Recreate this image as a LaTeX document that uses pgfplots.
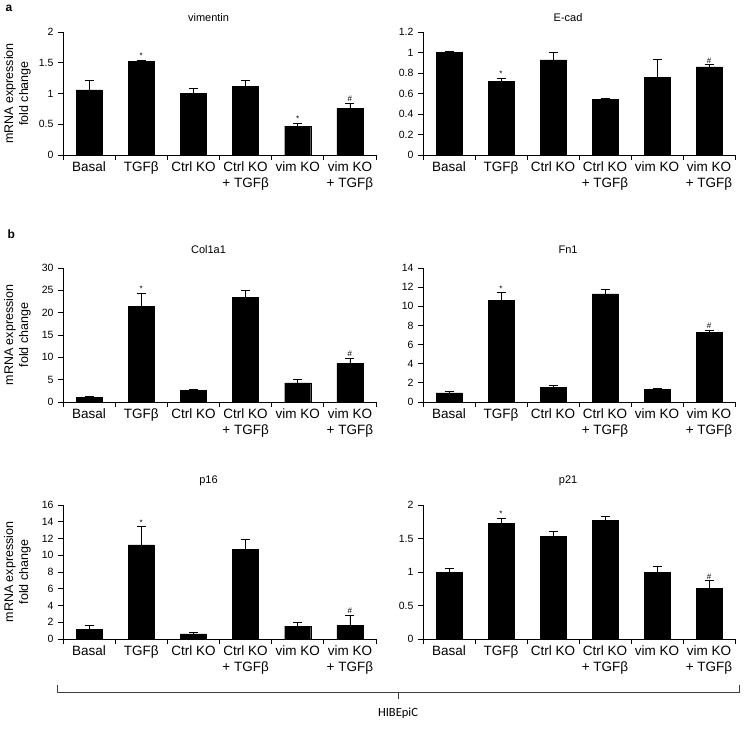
\documentclass[border=0pt]{standalone}
\usepackage{pgfplots}
\pgfplotsset{compat=1.18}
\usepackage{fontspec}
\setmainfont{Liberation Sans}
\newfontfamily\carlito{Carlito}
\pgfplotsset{
  panel/.style={
    scale only axis, width=313pt,
    axis lines*=left, xmin=-0.5, xmax=5.5, ymin=0,
    xtick={-0.5,0.5,...,5.5}, xticklabels={},
    extra x ticks={0,1,2,3,4,5},
    extra x tick labels={Basal, TGFβ, Ctrl KO, {Ctrl KO\\+ TGFβ}, vim KO, {vim KO\\+ TGFβ}},
    extra x tick style={major tick length=0pt, tick label style={font=\fontsize{13.5}{16.5}\selectfont, align=center, anchor=north, yshift=-3pt}},
    tick align=outside, major tick length=5pt,
    tick style={black, line width=0.8pt},
    axis line style={black, line width=0.8pt},
    yticklabel style={font=\fontsize{10.5}{12}\selectfont, xshift=-1pt},
    /pgf/number format/assume math mode=true,
    title style={font=\fontsize{11}{13}\selectfont, at={(axis description cs:0.465,1)}, anchor=center},
    ylabel style={font=\fontsize{12.5}{15}\selectfont, align=center, at={(axis description cs:-0.1454,0.5)}, anchor=center},
    clip=false,
  },
  bars/.style={ybar, bar width=26pt, fill=black, draw=black,
    error bars/.cd, y dir=plus, y explicit,
    error bar style={line width=0.8pt, black},
    error mark options={rotate=90, mark size=4.5pt, line width=0.8pt, black}},
  stars/.style={only marks, mark options={draw=none, fill=none}, nodes near coords, point meta=explicit symbolic,
    nodes near coords style={anchor=south, font=\fontsize{8}{8}\selectfont, inner sep=1.5pt, black}},
}
\begin{document}
\begin{tikzpicture}
\useasboundingbox (0,0) rectangle (744pt,732pt);
% panel labels
\node[anchor=west, font=\bfseries\fontsize{12}{14}\selectfont] at (2pt,724pt) {a};
\node[anchor=west, font=\bfseries\fontsize{12}{14}\selectfont] at (4pt,498pt) {b};

% vimentin
\begin{axis}[panel, at={(63pt,577pt)}, anchor=south west, height=123pt,
  ymax=2, ytick={0,0.5,1,1.5,2}, title={vimentin}, title style={yshift=8pt},
  ylabel={mRNA expression\\fold change}]
\addplot[bars] coordinates {(0,1.06) +- (0,0.15) (1,1.52) +- (0,0.02) (2,1.00) +- (0,0.09) (3,1.12) +- (0,0.09) (4,0.47) +- (0,0.05) (5,0.76) +- (0,0.08)};
\addplot[stars] coordinates {(1,1.54)[*] (4,0.52)[*] (5,0.84)[\#]};
\end{axis}

% E-cad
\begin{axis}[panel, at={(423pt,577pt)}, anchor=south west, width=312pt, height=123pt,
  ymax=1.2, ytick={0,0.2,0.4,0.6,0.8,1,1.2}, title={E-cad}, title style={yshift=8pt}]
\addplot[bars] coordinates {(0,1.00) +- (0,0.015) (1,0.72) +- (0,0.025) (2,0.927) +- (0,0.073) (3,0.54) +- (0,0.013) (4,0.755) +- (0,0.178) (5,0.859) +- (0,0.021)};
\addplot[stars] coordinates {(1,0.745)[*] (5,0.88)[\#]};
\end{axis}

% Col1a1
\begin{axis}[panel, at={(63pt,330pt)}, anchor=south west, height=134pt,
  ymax=30, ytick={0,5,...,30}, title={Col1a1}, title style={yshift=12pt},
  ylabel={mRNA expression\\fold change}]
\addplot[bars] coordinates {(0,1.05) +- (0,0.23) (1,21.4) +- (0,3.0) (2,2.63) +- (0,0.3) (3,23.5) +- (0,1.5) (4,4.28) +- (0,0.82) (5,8.63) +- (0,1.13)};
\addplot[stars] coordinates {(1,24.4)[*] (5,9.76)[\#]};
\end{axis}

% Fn1
\begin{axis}[panel, at={(423pt,330pt)}, anchor=south west, width=312pt, height=134pt,
  ymax=14, ytick={0,2,...,14}, title={Fn1}, title style={yshift=12pt}]
\addplot[bars] coordinates {(0,0.95) +- (0,0.11) (1,10.62) +- (0,0.78) (2,1.52) +- (0,0.21) (3,11.3) +- (0,0.45) (4,1.3) +- (0,0.11) (5,7.3) +- (0,0.22)};
\addplot[stars] coordinates {(1,11.4)[*] (5,7.52)[\#]};
\end{axis}

% p16
\begin{axis}[panel, at={(63pt,93pt)}, anchor=south west, height=134pt,
  ymax=16, ytick={0,2,...,16}, title={p16}, title style={yshift=18pt},
  ylabel={mRNA expression\\fold change}]
\addplot[bars] coordinates {(0,1.13) +- (0,0.53) (1,11.23) +- (0,2.17) (2,0.61) +- (0,0.19) (3,10.67) +- (0,1.17) (4,1.54) +- (0,0.48) (5,1.62) +- (0,1.25)};
\addplot[stars] coordinates {(1,13.4)[*] (5,2.87)[\#]};
\end{axis}

% p21
\begin{axis}[panel, at={(423pt,93pt)}, anchor=south west, width=312pt, height=134pt,
  ymax=2, ytick={0,0.5,1,1.5,2}, title={p21}, title style={yshift=18pt}]
\addplot[bars] coordinates {(0,1.0) +- (0,0.06) (1,1.725) +- (0,0.075) (2,1.535) +- (0,0.065) (3,1.77) +- (0,0.06) (4,1.0) +- (0,0.09) (5,0.76) +- (0,0.11)};
\addplot[stars] coordinates {(1,1.8)[*] (5,0.87)[\#]};
\end{axis}

% bracket
\draw[line width=0.8pt, black!75] (57pt,47pt) -- (57pt,40pt) -- (739pt,40pt) -- (739pt,47pt);
\draw[line width=0.8pt, black!75] (398pt,40pt) -- (398pt,33pt);
\node[font=\carlito\fontsize{12.5}{14}\selectfont] at (398pt,19pt) {HIBEpiC};
\end{tikzpicture}
\end{document}
